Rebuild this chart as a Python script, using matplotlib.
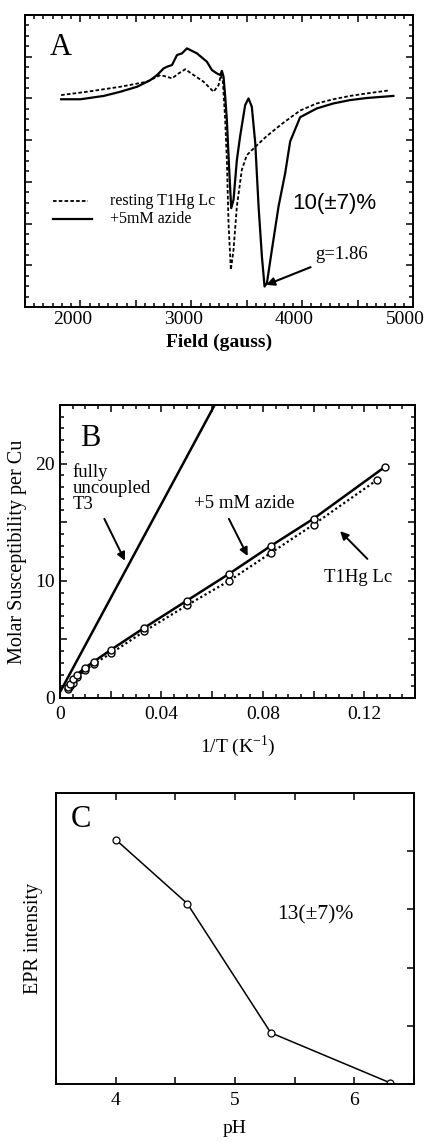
import numpy as np
import matplotlib
matplotlib.use("Agg")
import matplotlib.pyplot as plt
from matplotlib.ticker import MultipleLocator, AutoMinorLocator, NullFormatter
from matplotlib.transforms import ScaledTranslation

plt.rcParams['font.family'] = ['Liberation Serif', 'DejaVu Serif']
plt.rcParams['mathtext.fontset'] = 'custom'
plt.rcParams['mathtext.rm'] = 'Liberation Serif'

# --- panel A : EPR spectra (field in gauss, arbitrary intensity) ---
azide_field = [1826, 2000, 2210, 2360, 2511, 2631, 2691, 2751, 2781, 2826, 2871, 2916,
               2961, 3051, 3141, 3186, 3231, 3261, 3276, 3291, 3306, 3321, 3340, 3360,
               3381, 3411, 3441, 3486, 3516, 3546, 3577, 3607, 3637, 3661, 3682, 3727,
               3787, 3847, 3892, 3982, 4132, 4282, 4432, 4583, 4823]
azide_signal = [4.98, 4.98, 5.06, 5.16, 5.28, 5.44, 5.56, 5.72, 5.76, 5.80, 6.04, 6.08,
                6.20, 6.08, 5.88, 5.68, 5.60, 5.56, 5.66, 5.52, 5.04, 4.48, 3.40, 2.37,
                2.57, 3.52, 4.10, 4.84, 5.00, 4.80, 3.93, 2.41, 1.21, 0.49, 0.57, 1.37,
                2.41, 3.21, 3.97, 4.55, 4.76, 4.88, 4.96, 5.01, 5.06]
resting_field = [1826, 2060, 2360, 2601, 2721, 2781, 2826, 2886, 2946, 3021, 3111, 3201,
                 3246, 3267, 3285, 3306, 3321, 3336, 3357, 3381, 3411, 3456, 3501, 3577,
                 3682, 3832, 3982, 4132, 4282, 4432, 4583, 4778]
resting_signal = [5.08, 5.16, 5.28, 5.40, 5.56, 5.52, 5.48, 5.60, 5.70, 5.56, 5.40, 5.16,
                  5.32, 5.56, 5.40, 4.48, 3.52, 2.00, 0.89, 1.37, 2.41, 3.29, 3.64, 3.84,
                  4.10, 4.42, 4.71, 4.88, 4.98, 5.06, 5.12, 5.19]

# --- panel B : susceptibility vs 1/T ---
invT_azide = [0.0033, 0.004, 0.005, 0.0067, 0.01, 0.0133, 0.02, 0.0333, 0.05, 0.0667,
              0.0833, 0.1, 0.128]
chi_azide = [0.9, 1.2, 1.6, 2.0, 2.6, 3.1, 4.1, 6.0, 8.3, 10.6, 13.0, 15.3, 19.7]
invT_rest = [0.0033, 0.004, 0.005, 0.0067, 0.01, 0.0133, 0.02, 0.0333, 0.05, 0.0667,
             0.0833, 0.1, 0.125]
chi_rest = [0.8, 1.0, 1.3, 1.8, 2.4, 2.9, 3.8, 5.7, 7.9, 10.0, 12.4, 14.8, 18.6]
invT_uncoupled = [0.0, 0.061]
chi_uncoupled = [0.5, 25.0]

# --- panel C : EPR intensity vs pH ---
ph = [4.0, 4.6, 5.3, 6.3]
epr_int = [4.2, 3.1, 0.88, 0.02]

W, H = 424, 1142
fig = plt.figure(figsize=(W / 100, H / 100), dpi=100)


def box(l, t, r, b):
    return [l / W, 1 - b / H, (r - l) / W, (b - t) / H]


def style(ax, lw=1.4):
    for s in ax.spines.values():
        s.set_linewidth(lw)
    ax.tick_params(which='both', direction='in', top=True, right=True, width=1.1)
    ax.tick_params(which='major', length=5)
    ax.tick_params(which='minor', length=3)


# ---------- A ----------
axA = fig.add_axes(box(25, 15, 413, 307))
axA.plot(resting_field, resting_signal, color='black', lw=1.3, ls=(0, (2, 1.2)))
axA.plot(azide_field, azide_signal, color='black', lw=1.6)
axA.set_xlim(1500, 5000)
axA.set_ylim(0, 7)
axA.set_xticks(np.arange(1500, 5001, 500))
axA.set_xticklabels(['', '2000', '', '3000', '', '4000', '', '5000'])
axA.xaxis.set_minor_locator(MultipleLocator(500 / 6))
axA.yaxis.set_major_locator(MultipleLocator(1))
axA.yaxis.set_minor_locator(AutoMinorLocator(4))
axA.yaxis.set_major_formatter(NullFormatter())
style(axA)
axA.tick_params(axis='x', labelsize=14, pad=3)
shift = ScaledTranslation(-8 / 100, 0, fig.dpi_scale_trans)
for lab in axA.get_xticklabels():
    lab.set_transform(lab.get_transform() + shift)
axA.set_xlabel('Field (gauss)', fontsize=14, fontweight='bold')
axA.xaxis.set_label_coords(0.5, -0.09)
axA.text(1820, 6.23, 'A', fontsize=22, ha='center', va='center')
axA.plot([1757, 2072], [2.54, 2.54], color='black', lw=1.3, ls=(0, (2, 1.2)))
axA.plot([1757, 2100], [2.11, 2.11], color='black', lw=1.6)
axA.text(2270, 2.54, 'resting T1Hg Lc', fontsize=11.5, va='center')
axA.text(2270, 2.11, '+5mM azide', fontsize=11.5, va='center')
axA.text(4288, 2.47, '10(\u00b17)%', fontsize=16, ha='center', va='center',
         family=['Liberation Sans', 'DejaVu Sans'])
axA.annotate('g=1.86', xy=(3676, 0.53), xytext=(4117, 1.25), fontsize=13.5,
             va='center', ha='left',
             arrowprops=dict(arrowstyle='-|>', color='black', lw=1.5,
                             shrinkA=2, shrinkB=0, mutation_scale=12))

# ---------- B ----------
axB = fig.add_axes(box(60, 405, 415, 698))
axB.plot(invT_uncoupled, chi_uncoupled, color='black', lw=1.8)
axB.plot(invT_rest, chi_rest, color='black', lw=1.6, ls=(0, (1, 1.2)),
         marker='o', ms=5, mfc='white', mec='black', mew=1.0)
axB.plot(invT_azide, chi_azide, color='black', lw=1.8,
         marker='o', ms=5, mfc='white', mec='black', mew=1.0)
axB.set_xlim(0, 0.14)
axB.set_ylim(0, 25)
axB.xaxis.set_minor_locator(MultipleLocator(0.005))
axB.yaxis.set_minor_locator(MultipleLocator(1))
axB.set_xticks(np.arange(0, 0.141, 0.02))
axB.set_xticklabels(['0', '', '0.04', '', '0.08', '', '0.12', ''])
axB.set_yticks([0, 5, 10, 15, 20, 25])
axB.set_yticklabels(['0', '', '10', '', '20', ''])
style(axB)
axB.tick_params(labelsize=14)
axB.tick_params(axis='x', pad=6)
axB.set_xlabel('1/T (K$^{\\mathregular{-1}}$)', fontsize=14)
axB.xaxis.set_label_coords(0.5, -0.12)
axB.set_ylabel('Molar Susceptibility per Cu', fontsize=14.5)
axB.yaxis.set_label_coords(-0.093, 0.5)
axB.text(0.0119, 22.1, 'B', fontsize=22, ha='center', va='center')
axB.text(0.0051, 17.9, 'fully\nuncoupled\nT3', fontsize=13.5, ha='left', va='center',
         linespacing=0.95)
axB.annotate('', xy=(0.0261, 11.5), xytext=(0.017, 15.5),
             arrowprops=dict(arrowstyle='-|>', color='black', lw=1.4, mutation_scale=12))
axB.text(0.0725, 16.6, '+5 mM azide', fontsize=13.5, ha='center', va='center')
axB.annotate('', xy=(0.0745, 11.9), xytext=(0.0661, 15.5),
             arrowprops=dict(arrowstyle='-|>', color='black', lw=1.4, mutation_scale=12))
axB.text(0.1176, 10.25, 'T1Hg Lc', fontsize=13.5, ha='center', va='center')
axB.annotate('', xy=(0.1097, 14.4), xytext=(0.122, 11.7),
             arrowprops=dict(arrowstyle='-|>', color='black', lw=1.4, mutation_scale=12))

# ---------- C ----------
axC = fig.add_axes(box(56, 793, 414, 1084))
axC.plot(ph, epr_int, color='black', lw=1.1,
         marker='o', ms=5, mfc='white', mec='black', mew=0.9)
axC.set_xlim(3.5, 6.5)
axC.set_ylim(0, 5)
axC.xaxis.set_major_locator(MultipleLocator(1))
axC.xaxis.set_minor_locator(MultipleLocator(0.5))
axC.yaxis.set_major_locator(MultipleLocator(1))
axC.yaxis.set_major_formatter(NullFormatter())
style(axC)
axC.tick_params(axis='y', left=False)
axC.tick_params(axis='x', which='minor', length=5)
axC.tick_params(labelsize=14)
axC.tick_params(axis='x', pad=6)
axC.set_xlabel('pH', fontsize=14)
axC.xaxis.set_label_coords(0.5, -0.125)
axC.set_ylabel('EPR intensity', fontsize=14.5)
axC.yaxis.set_label_coords(-0.035, 0.5)
axC.text(3.71, 4.54, 'C', fontsize=22, ha='center', va='center')
axC.text(5.67, 2.9, '13(\u00b17)%', fontsize=15.5, ha='center', va='center')

fig.savefig('out.png', dpi=100)
